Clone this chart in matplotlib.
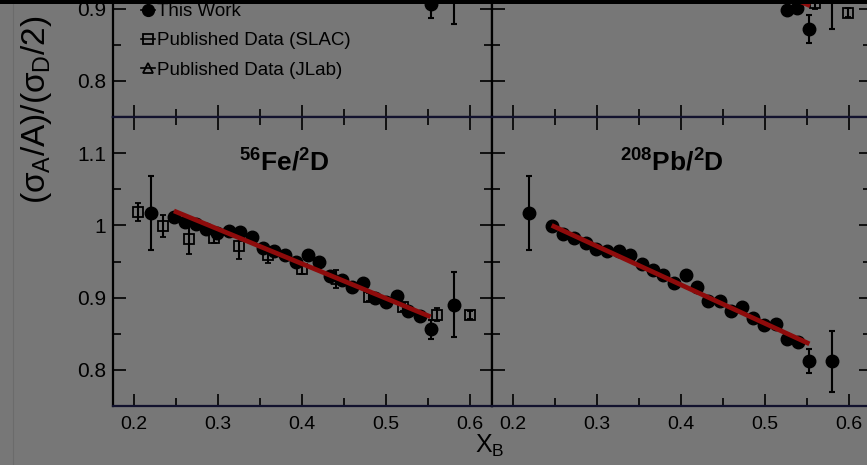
import numpy as np
import matplotlib
matplotlib.use("Agg")
import matplotlib.pyplot as plt
from matplotlib.lines import Line2D
from matplotlib.patches import Rectangle
from matplotlib.ticker import MultipleLocator

plt.rcParams['font.family'] = ['Liberation Sans', 'DejaVu Sans']
plt.rcParams['mathtext.fontset'] = 'custom'
plt.rcParams['mathtext.rm'] = 'Liberation Sans'
plt.rcParams['mathtext.it'] = 'Liberation Sans'
plt.rcParams['mathtext.bf'] = 'Liberation Sans:bold'

BG = '#777777'
RED = '#8e0b0b'
HLINE = '#12122e'

# ---- top-left panel (only the lower part is in view) ----
tl_work_x = [0.553, 0.5806]
tl_work_y = [0.907, 0.921]
tl_work_err = [0.020, 0.042]

# ---- top-right panel ----
tr_work_x = [0.5258, 0.5385, 0.5527, 0.5794]
tr_work_y = [0.898, 0.9007, 0.872, 0.918]
tr_work_err = [0.005, 0.005, 0.019, 0.046]
tr_slac_x = [0.5595, 0.5992]
tr_slac_y = [0.9077, 0.8946]
tr_slac_err = [0.008, 0.006]
tr_fit_x = [0.2475, 0.5535]
tr_fit_y = [1.056, 0.904]

# ---- 56Fe / 2D ----
fe_work_x = [0.220, 0.2475, 0.2604, 0.2735, 0.286, 0.299, 0.313, 0.3267, 0.3405,
             0.353, 0.3667, 0.380, 0.3933, 0.407, 0.420, 0.433, 0.447, 0.4595,
             0.4726, 0.4866, 0.4996, 0.5131, 0.526, 0.540, 0.5529, 0.5806]
fe_work_y = [1.017, 1.011, 1.005, 1.002, 0.995, 0.990, 0.992, 0.991, 0.984,
             0.969, 0.964, 0.959, 0.949, 0.959, 0.949, 0.930, 0.925, 0.915,
             0.920, 0.900, 0.894, 0.902, 0.881, 0.874, 0.856, 0.890]
fe_work_err = [0.051] + [0.005] * 23 + [0.013, 0.045]
fe_slac_x = [0.205, 0.235, 0.265, 0.295, 0.325, 0.360, 0.400, 0.480, 0.520, 0.560, 0.600]
fe_slac_y = [1.0185, 0.999, 0.981, 0.983, 0.971, 0.959, 0.940, 0.901, 0.887, 0.876, 0.876]
fe_slac_err = [0.013, 0.015, 0.021, 0.007, 0.017, 0.011, 0.007, 0.006, 0.006, 0.009, 0.006]
fe_jlab_x = [0.440]
fe_jlab_y = [0.926]
fe_jlab_err = [0.012]
fe_fit_x = [0.2475, 0.5529]
fe_fit_y = [1.020, 0.8735]

# ---- 208Pb / 2D ----
pb_work_x = [0.2194, 0.2461, 0.2592, 0.2726, 0.2865, 0.2988, 0.3123, 0.3265, 0.339,
             0.353, 0.3663, 0.379, 0.392, 0.406, 0.4194, 0.4325, 0.4464, 0.4592,
             0.473, 0.486, 0.4992, 0.5127, 0.5258, 0.5396, 0.5527, 0.5794]
pb_work_y = [1.017, 0.999, 0.9885, 0.983, 0.975, 0.967, 0.9644, 0.9644, 0.959,
             0.946, 0.938, 0.931, 0.920, 0.932, 0.915, 0.896, 0.896, 0.881,
             0.887, 0.872, 0.8615, 0.863, 0.843, 0.838, 0.812, 0.812]
pb_work_err = [0.051] + [0.005] * 23 + [0.017, 0.042]
pb_fit_x = [0.246, 0.5527]
pb_fit_y = [1.000, 0.836]

x_range = (0.175, 0.626)
y_range = (0.75, 1.15)

W, H = 867, 465
fig = plt.figure(figsize=(W / 100, H / 100), dpi=100, facecolor=BG)


def px_axes(x0, y0, x1, y1):
    ax = fig.add_axes([x0 / W, 1 - y1 / H, (x1 - x0) / W, (y1 - y0) / H])
    ax.set_facecolor(BG)
    ax.set_xlim(*x_range)
    ax.set_ylim(*y_range)
    ax.xaxis.set_major_locator(MultipleLocator(0.1))
    ax.xaxis.set_minor_locator(MultipleLocator(0.05))
    ax.yaxis.set_major_locator(MultipleLocator(0.1))
    ax.yaxis.set_minor_locator(MultipleLocator(0.05))
    ax.tick_params(which='both', direction='in', top=True, right=True,
                   color='k', width=1.2)
    ax.tick_params(which='major', length=9)
    ax.tick_params(which='minor', length=6)
    ax.tick_params(axis='x', labelsize=14, pad=7)
    ax.tick_params(axis='y', labelsize=15, pad=5)
    for s in ax.spines.values():
        s.set_linewidth(1.6)
        s.set_color('k')
    ax.spines['bottom'].set_color(HLINE)
    ax.spines['top'].set_color(HLINE)
    return ax


ax_tl = px_axes(113, -172, 492, 117)
ax_tr = px_axes(492, -172, 871, 117)
ax_bl = px_axes(113, 117, 492, 406)
ax_br = px_axes(492, 117, 871, 406)

for ax in (ax_tl, ax_tr):
    ax.tick_params(labelbottom=False)
for ax in (ax_tr, ax_br):
    ax.tick_params(labelleft=False)

ax_bl.xaxis.set_major_formatter(plt.FuncFormatter(lambda v, p: f'{v:g}'))
ax_br.xaxis.set_major_formatter(plt.FuncFormatter(lambda v, p: f'{v:g}'))
for ax in (ax_tl, ax_bl):
    ax.yaxis.set_major_formatter(plt.FuncFormatter(lambda v, p: f'{v:g}'))

eb = dict(color='k', capsize=2.3, elinewidth=1.5, capthick=1.5, linestyle='none')


def draw_work(ax, x, y, e):
    ax.errorbar(x, y, yerr=e, marker='o', ms=9, mfc='k', mec='k', zorder=3, **eb)


def draw_slac(ax, x, y, e):
    ax.errorbar(x, y, yerr=e, marker='s', ms=7, mfc='none', mec='k', mew=1.3,
                zorder=2, **eb)


def draw_jlab(ax, x, y, e):
    ax.errorbar(x, y, yerr=e, marker='^', ms=7, mfc='none', mec='k', mew=1.3,
                zorder=2, **eb)


def draw_fit(ax, x, y):
    ax.plot(x, y, color=RED, lw=3.4, solid_capstyle='butt', zorder=5)


# top-left
draw_work(ax_tl, tl_work_x, tl_work_y, tl_work_err)

# top-right
draw_slac(ax_tr, tr_slac_x, tr_slac_y, tr_slac_err)
draw_work(ax_tr, tr_work_x, tr_work_y, tr_work_err)
draw_fit(ax_tr, tr_fit_x, tr_fit_y)

# Fe
draw_slac(ax_bl, fe_slac_x, fe_slac_y, fe_slac_err)
draw_jlab(ax_bl, fe_jlab_x, fe_jlab_y, fe_jlab_err)
draw_work(ax_bl, fe_work_x, fe_work_y, fe_work_err)
draw_fit(ax_bl, fe_fit_x, fe_fit_y)

# Pb
draw_work(ax_br, pb_work_x, pb_work_y, pb_work_err)
draw_fit(ax_br, pb_fit_x, pb_fit_y)

ax_bl.text(0.3794, 1.0748, r'$^{\mathbf{56}}$Fe/$^{\mathbf{2}}$D', fontsize=19,
           fontweight='bold', ha='center', va='baseline')
ax_br.text(0.3887, 1.0748, r'$^{\mathbf{208}}$Pb/$^{\mathbf{2}}$D', fontsize=19,
           fontweight='bold', ha='center', va='baseline')

# legend (top-left panel)
handles = [
    Line2D([], [], color='k', lw=1.2, marker='o', ms=8.5, mfc='k', mec='k'),
    Line2D([], [], color='k', lw=1.2, marker='s', ms=7, mfc='none', mec='k', mew=1.3),
    Line2D([], [], color='k', lw=1.2, marker='^', ms=7, mfc='none', mec='k', mew=1.3),
]
labels = ['This Work', 'Published Data (SLAC)', 'Published Data (JLab)']
ax_tl.legend(handles, labels, loc='upper left', bbox_to_anchor=(0.075, 0.394),
             frameon=False, fontsize=13.5, borderpad=0, borderaxespad=0,
             handlelength=0.7, handletextpad=0.15, labelspacing=0.64, numpoints=1)

fig.text(37 / W, 1 - 110 / H,
         r'($\sigma_\mathregular{A}$/A)/($\sigma_\mathregular{D}$/2)',
         rotation=90, ha='center', va='center', fontsize=24)
fig.text(490 / W, 1 - 446 / H, r'X$_\mathregular{B}$', ha='center', va='center',
         fontsize=18)

# screenshot edges
fig.add_artist(Line2D([13 / W, 13 / W], [0, 1], color='#6b6b6b', lw=0.8))
fig.add_artist(Rectangle((0, 1 - 4 / H), 1, 4 / H, transform=fig.transFigure,
                         facecolor='k', edgecolor='none', zorder=10))

fig.savefig('out.png', dpi=100, facecolor=BG)
